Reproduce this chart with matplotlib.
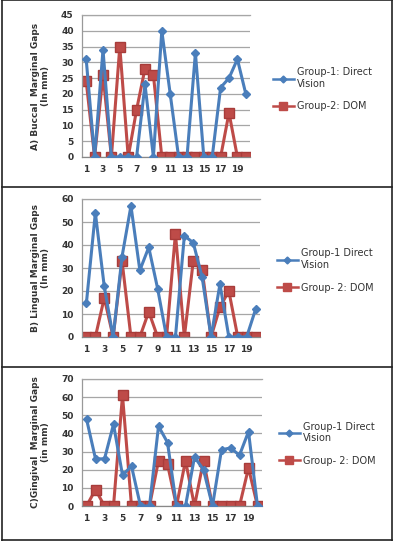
import matplotlib
matplotlib.use("Agg")
import matplotlib.pyplot as plt
from matplotlib.lines import Line2D

teeth = list(range(1, 21))

buccal_g1 = [31, 0, 34, 0, 0, 0, 0, 23, 0, 40, 20, 0, 0, 33, 0, 0, 22, 25, 31, 20]
buccal_g2 = [24, 0, 26, 0, 35, 0, 15, 28, 26, 0, 0, 0, 0, 0, 0, 0, 0, 14, 0, 0]

lingual_g1 = [15, 54, 22, 0, 35, 57, 29, 39, 21, 0, 0, 44, 41, 26, 0, 23, 0, 0, 0, 12]
lingual_g2 = [0, 0, 17, 0, 33, 0, 0, 11, 0, 0, 45, 0, 33, 29, 0, 13, 20, 0, 0, 0]

gingival_g1 = [48, 26, 26, 45, 17, 22, 0, 0, 44, 35, 0, 0, 27, 20, 0, 31, 32, 28, 41, 0]
gingival_g2 = [0, 9, 0, 0, 61, 0, 0, 0, 25, 23, 0, 25, 0, 25, 0, 0, 0, 0, 21, 0]

BLUE = '#4a7ebb'
RED = '#be4b48'

panels = [
	{'g1': buccal_g1, 'g2': buccal_g2, 'ymax': 45, 'step': 5,
	 'ylabel': 'A) Buccal  Marginal Gaps\n(In mm)',
	 'labels': ['Group-1: Direct\nVision', 'Group-2: DOM'],
	 'rect': [82 / 394, (541 - 157) / 541, 168 / 394, 142 / 541],
	 'leg': (0.67, 0.835)},
	{'g1': lingual_g1, 'g2': lingual_g2, 'ymax': 60, 'step': 10,
	 'ylabel': 'B) Lingual Marginal Gaps\n(In mm)',
	 'labels': ['Group-1 Direct\nVision', 'Group- 2: DOM'],
	 'rect': [82 / 394, (541 - 337) / 541, 178 / 394, 138 / 541],
	 'leg': (0.68, 0.5)},
	{'g1': gingival_g1, 'g2': gingival_g2, 'ymax': 70, 'step': 10,
	 'ylabel': 'C)Gingival  Marginal Gaps\n(in mm)',
	 'labels': ['Group-1 Direct\nVision', 'Group- 2: DOM'],
	 'rect': [82 / 394, (541 - 506) / 541, 180 / 394, 127 / 541],
	 'leg': (0.685, 0.18)},
]

fig = plt.figure(figsize=(3.94, 5.41), dpi=100)

for p in panels:
	ax = fig.add_axes(p['rect'])
	ax.plot(teeth, p['g1'], color=BLUE, lw=2.2, marker='D', ms=4, zorder=3)
	ax.plot(teeth, p['g2'], color=RED, lw=2.2, marker='s', ms=6.5, mec='#a83c3a', zorder=2)
	ax.set_xlim(0.5, 20.5)
	ax.set_ylim(0, p['ymax'])
	ax.set_yticks(range(0, p['ymax'] + 1, p['step']))
	ax.set_xticks(teeth[::2])
	ax.yaxis.grid(True, color='#a6a6a6', lw=0.9)
	ax.set_axisbelow(True)
	ax.spines['right'].set_visible(False)
	ax.spines['top'].set_color('#a6a6a6')
	ax.spines['left'].set_color('#999999')
	ax.spines['bottom'].set_color('#888888')
	for s in ax.spines.values():
		s.set_linewidth(0.9)
	ax.tick_params(length=0, labelsize=6.5, colors='#333333', pad=6)
	for t in ax.get_xticklabels() + ax.get_yticklabels():
		t.set_fontweight('bold')
	ax.set_ylabel(p['ylabel'], fontsize=6.5, fontweight='bold', color='#333333', labelpad=8)
	handles = [
		Line2D([], [], color=BLUE, lw=1.8, marker='D', ms=3.5),
		Line2D([], [], color=RED, lw=1.8, marker='s', ms=5.5),
	]
	fig.legend(handles, p['labels'], loc='center left', bbox_to_anchor=p['leg'],
			   frameon=False, fontsize=7, handlelength=2.2, handletextpad=0.3,
			   labelspacing=1.3, labelcolor='#333333')

# panel frames
for y in [0, 187, 367]:
	fig.add_artist(Line2D([2 / 394, 392 / 394], [1 - y / 541, 1 - y / 541], color='#222222', lw=1.2))
fig.add_artist(Line2D([2 / 394, 392 / 394], [1 / 541, 1 / 541], color='#222222', lw=1.2))
fig.add_artist(Line2D([2 / 394, 2 / 394], [0, 1], color='#222222', lw=1.2))
fig.add_artist(Line2D([392 / 394, 392 / 394], [0, 1], color='#222222', lw=1.2))

fig.savefig('out.png', dpi=100)
